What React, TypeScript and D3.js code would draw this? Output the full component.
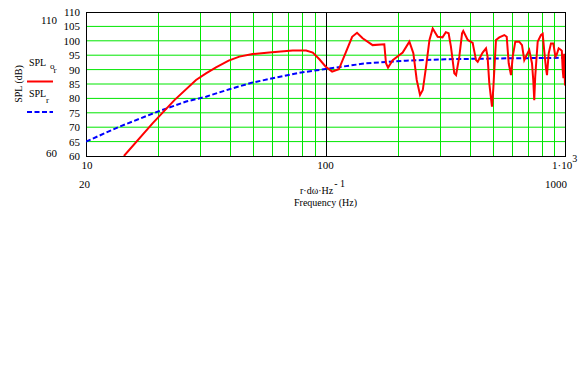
import React from 'react';
import * as d3 from 'd3';

// SPL_or (red) - measured response
const redFreq = [14.4, 19.0, 23.4, 28.8, 31.7, 34.9, 39.4, 43.7, 49.6, 58.2, 72.9, 83.0, 88.5, 94.3, 100,
  106.6, 113.7, 121.2, 129.2, 135.4, 142.9, 157.3, 176.0, 178.9, 182.4, 190.8, 210, 224, 232.7, 240.4,
  248.2, 254.8, 263, 271.7, 280.3, 294, 308, 318, 326.6, 334, 345, 350.8, 362, 371.7, 376, 392.6, 411.6,
  425, 432, 453, 468, 475, 483, 495.6, 502, 515, 531.7, 557.9, 571, 582, 595, 605, 620, 644, 661.5, 676,
  698, 709, 728, 737, 744, 751, 769, 794, 807, 819.6, 833, 841, 855, 874, 893.5, 912, 923, 941, 962, 970,
  978, 985, 992, 1000];
const redSpl = [60, 71.4, 79.4, 86.4, 88.7, 90.8, 93.1, 94.5, 95.4, 95.9, 96.6, 96.6, 95.9, 93.6, 91.1,
  89.3, 90.1, 95.7, 101.4, 102.8, 100.9, 98.5, 98.8, 92.2, 90.7, 93.3, 95.9, 99.7, 95.7, 86.4,
  81.2, 82.9, 91.0, 100.3, 104.3, 101.4, 101.2, 103.0, 102.6, 98.0, 88.7, 88.1, 94.5, 102.6, 103.4, 100.3, 99.3,
  93.3, 92.7, 95.9, 97.4, 94.5, 85.2, 77.1, 83.5, 100.3, 101.2, 102.0, 101.4, 92.2, 88.1, 94.5, 99.7, 99.7, 98.5, 93.3,
  95.7, 96.8, 92.2, 86.4, 79.4, 87.5, 99.7, 102.0, 102.4, 96.2, 90.4, 88.1, 95.7, 99.1, 99.1, 94.5, 95.1, 97.4, 96.8, 96.5,
  90, 87, 95.5, 84.5];

// SPL_r (blue dashed)
const blueFreq = [10, 13.8, 19.9, 26.2, 31.7, 39.7, 49.6, 60.2, 77.7, 100, 147.6, 216.6, 316, 570, 1000];
const blueSpl = [65, 70.2, 75.4, 78.9, 80.6, 83.2, 85.5, 87.0, 88.9, 90.2, 92.2, 93.1, 93.6, 93.9, 94.1];

const yTicks = [60, 65, 70, 75, 80, 85, 90, 95, 100, 105, 110];
const xGrid = [20, 30, 40, 50, 60, 70, 80, 90, 200, 300, 400, 500, 600, 700, 800, 900];

const font = "'Liberation Serif', 'DejaVu Serif', serif";

export default function App() {
  const left = 86, right = 565, top = 12, bottom = 156;
  const x = d3.scaleLog().domain([10, 1000]).range([left, right]);
  const y = d3.scaleLinear().domain([60, 110]).range([bottom, top]);

  const line = d3.line<[number, number]>()
    .x(d => x(d[0]))
    .y(d => y(d[1]));

  const red = redFreq.map((f, i) => [f, redSpl[i]] as [number, number]);
  const blue = blueFreq.map((f, i) => [f, blueSpl[i]] as [number, number]);
  const green = '#00e600';

  return (
    <svg width={582} height={384}
         style={{position: 'absolute', left: 0, top: 0, background: '#fff', fontFamily: font, fontSize: 11}}>
      <defs>
        <clipPath id="plot">
          <rect x={left} y={top} width={right - left} height={bottom - top}/>
        </clipPath>
      </defs>
      {yTicks.slice(1, -1).map(t =>
        <line key={'h' + t} x1={left} x2={right} y1={y(t)} y2={y(t)} stroke={green} strokeWidth={1}/>
      )}
      {xGrid.map(f =>
        <line key={'v' + f} x1={Math.round(x(f)) + 0.5} x2={Math.round(x(f)) + 0.5} y1={top} y2={bottom}
              stroke={green} strokeWidth={1}/>
      )}
      <line x1={Math.round(x(100)) + 0.5} x2={Math.round(x(100)) + 0.5} y1={top} y2={bottom} stroke="#000" strokeWidth={1}/>
      <rect x={left + 0.5} y={top + 0.5} width={right - left} height={bottom - top} fill="none" stroke="#000" strokeWidth={1}/>

      <g clipPath="url(#plot)">
        <path d={line(blue) || ''} fill="none" stroke="#0000ff" strokeWidth={2} strokeDasharray="5,2.5"/>
        <path d={line(red) || ''} fill="none" stroke="#ff0000" strokeWidth={2}/>
      </g>

      {/* y tick labels */}
      {yTicks.map(t =>
        <text key={'yl' + t} x={80} y={y(t) + 1.5} textAnchor="end" dominantBaseline="middle">{t}</text>
      )}
      <text x={57} y={24} textAnchor="end">110</text>
      <text x={57} y={157} textAnchor="end">60</text>
      <text transform="translate(22,84) rotate(-90)" textAnchor="middle" style={{fontSize: 10}}>SPL (dB)</text>

      {/* legend */}
      <text x={29} y={66} style={{fontSize: 10}}>SPL<tspan x={50} y={69} style={{fontSize: 9}}>o</tspan><tspan x={53.5} y={73} style={{fontSize: 9}}>r</tspan></text>
      <line x1={27} x2={53} y1={81.5} y2={81.5} stroke="#ff0000" strokeWidth={2}/>
      <text x={29} y={97} style={{fontSize: 10}}>SPL<tspan x={46} y={103} style={{fontSize: 9}}>r</tspan></text>
      <line x1={27} x2={53} y1={112} y2={112} stroke="#0000ff" strokeWidth={2} strokeDasharray="5,2.5"/>

      {/* x tick labels */}
      <text x={x(10) + 1} y={169} textAnchor="middle">10</text>
      <text x={x(100)} y={169} textAnchor="middle">100</text>
      <text x={552} y={169}>1·10<tspan dy={-7} style={{fontSize: 10}}>3</tspan></text>
      <text x={84.5} y={188} textAnchor="middle">20</text>
      <text x={556} y={188} textAnchor="middle">1000</text>

      <text x={300} y={194} style={{fontSize: 10}}>r·dω·Hz<tspan dx={1} dy={-7}>- 1</tspan></text>
      <text x={325.5} y={206} textAnchor="middle" style={{fontSize: 10}}>Frequency (Hz)</text>
    </svg>
  );
}
